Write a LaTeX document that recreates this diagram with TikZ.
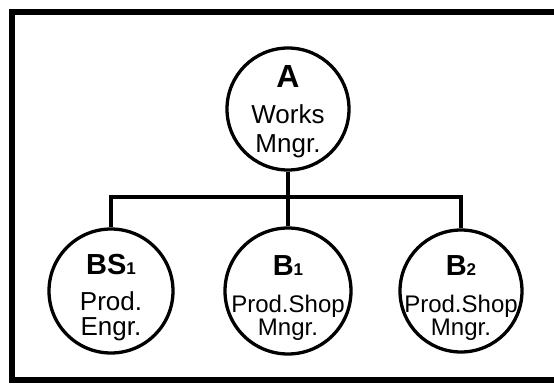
\documentclass[tikz,border=0pt]{standalone}
\usepackage{fontspec}
\setmainfont{Liberation Sans}
\begin{document}
\begin{tikzpicture}[x=1pt,y=-1pt,
  post/.style={circle,draw,line width=3.3pt,minimum size=122pt,inner sep=0pt},
  head/.style={anchor=base,inner sep=0pt,font=\fontsize{29}{30}\selectfont\bfseries},
  txtA/.style={anchor=base,inner sep=0pt,align=center,font=\fontsize{26}{29}\selectfont},
  txt/.style={anchor=base,inner sep=0pt,align=center,font=\fontsize{24}{23}\selectfont},
  wire/.style={line width=3.3pt}]
\useasboundingbox (0,0) rectangle (554,383);
\begin{scope}
\clip (0,0) rectangle (554,383);
\draw[line width=6pt] (12,11.5) rectangle (600,379.5);
\end{scope}
% circles
\node[post] (A) at (288,109) {};
\node[post,minimum size=124pt] (BS1) at (111,291) {};
\node[post,minimum size=126pt] (B1) at (288,291) {};
\node[post,minimum size=122pt] (B2) at (461,291) {};
% connectors
\coordinate (bar) at (288,197);
\draw[wire] (A.south) -- (B1.north);
\draw[wire] (BS1.north) -- (BS1.north |- bar) -- (B2.north |- bar) -- (B2.north);
% texts
\node[head,font=\fontsize{32}{33}\selectfont\bfseries] (tA) at (288,87) {A};
\node[txtA] (tA2) at (288,152) {Works\\Mngr.};
\node[head] (tBS1) at (111,274) {BS{\fontsize{17}{18}\selectfont 1}};
\node[txt,font=\fontsize{26}{25}\selectfont] (tBS2) at (111,335) {Prod.\\Engr.};
\node[head] (tB1) at (288,275) {B{\fontsize{17}{18}\selectfont 1}};
\node[txt] (tB12) at (288,335) {Prod.Shop\\Mngr.};
\node[head] (tB2) at (461,275) {B{\fontsize{17}{18}\selectfont 2}};
\node[txt] (tB22) at (461,335) {Prod.Shop\\Mngr.};
\end{tikzpicture}
\end{document}
